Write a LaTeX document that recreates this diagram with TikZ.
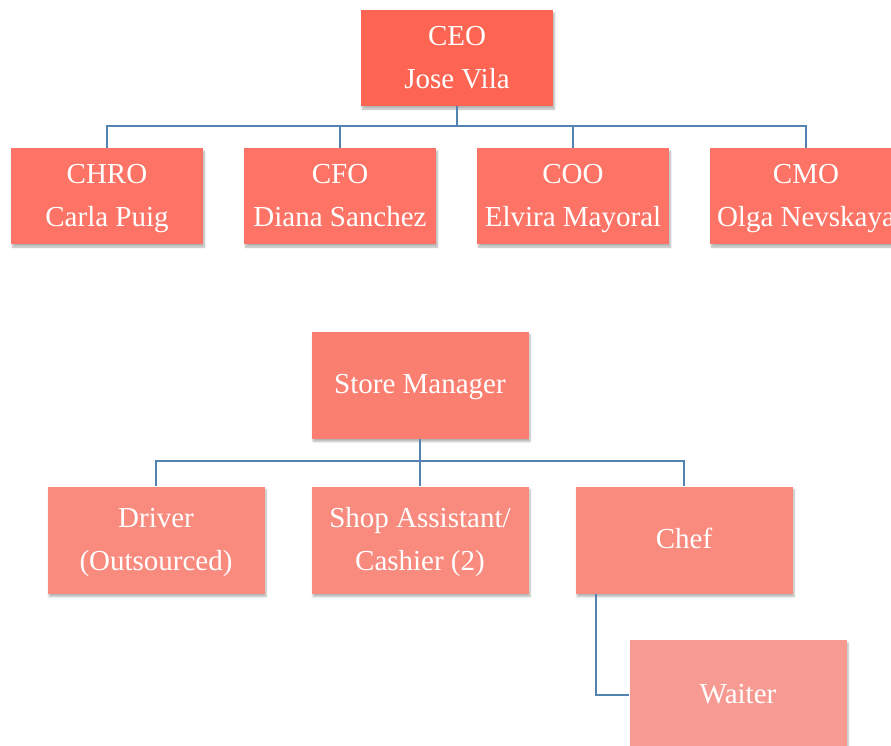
\documentclass[tikz,border=0pt]{standalone}
\usepackage{fontspec}
\setmainfont{Liberation Serif}
\usetikzlibrary{shadows.blur}
\definecolor{ceofill}{HTML}{FE6452}
\definecolor{execfill}{HTML}{FD7466}
\definecolor{smfill}{HTML}{FA7F70}
\definecolor{stafffill}{HTML}{F98A7E}
\definecolor{waiterfill}{HTML}{F79B92}
\definecolor{linkblue}{HTML}{5283B3}
% one line of box text with a fixed height and depth
\newcommand{\orgline}[1]{\strut#1}
\tikzset{
  orgbox/.style={rectangle, draw=none, text=white, align=center,
    font=\fontsize{29}{43}\selectfont, inner sep=0pt,
    blur shadow={shadow xshift=1.5pt, shadow yshift=-3pt, shadow blur steps=6, shadow opacity=30}},
  execbox/.style={orgbox, minimum width=192pt, minimum height=96pt},
  staffbox/.style={orgbox, minimum width=217pt, minimum height=107pt},
  conn/.style={draw=linkblue, line width=2.2pt}
}
\begin{document}
\begin{tikzpicture}[x=1pt, y=-1pt]
\useasboundingbox (0,0) rectangle (891,745);

% executive level
\node[execbox, fill=ceofill] (ceo) at (457,58) {\orgline{CEO}\\\orgline{Jose Vila}};
\node[execbox, fill=execfill] (chro) at (107,196) {\orgline{CHRO}\\\orgline{Carla Puig}};
\node[execbox, fill=execfill] (cfo) at (340,196) {\orgline{CFO}\\\orgline{Diana Sanchez}};
\node[execbox, fill=execfill] (coo) at (573,196) {\orgline{COO}\\\orgline{Elvira Mayoral}};
\node[execbox, fill=execfill] (cmo) at (806,196) {\orgline{CMO}\\\orgline{Olga Nevskaya}};

\coordinate (busA) at (0,126);
\foreach \c in {chro,cfo,coo,cmo}
  \draw[conn] (ceo.south) -- (ceo.south |- busA) -| (\c.north);

% store level
\node[staffbox, fill=smfill] (sm) at (420,385) {\orgline{Store Manager}};
\node[staffbox, fill=stafffill] (driver) at (156,540) {\orgline{Driver}\\\orgline{(Outsourced)}};
\node[staffbox, fill=stafffill] (shop) at (420,540) {\orgline{Shop Assistant/}\\\orgline{Cashier (2)}};
\node[staffbox, fill=stafffill] (chef) at (684,540) {\orgline{Chef}};
\node[staffbox, fill=waiterfill, minimum height=110pt] (waiter) at (738,695) {\orgline{Waiter}};

\coordinate (busB) at (0,461);
\foreach \c in {driver,shop,chef}
  \draw[conn] (sm.south) -- (sm.south |- busB) -| (\c.north);

\draw[conn] (chef.south west) ++(21,0) |- (waiter.west);
\end{tikzpicture}
\end{document}
